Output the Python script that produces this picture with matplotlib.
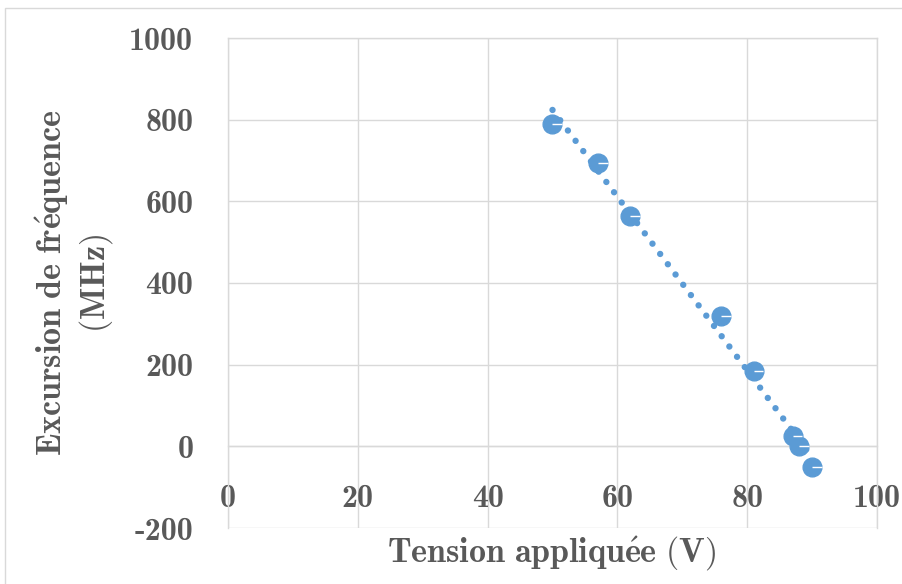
import numpy as np
import matplotlib.pyplot as plt
from matplotlib.patches import Rectangle

# data
tension = [50, 57, 62, 76, 81, 87, 88, 90]
excursion = [790, 695, 565, 320, 185, 25, 0, -50]
x_ticks = [0, 20, 40, 60, 80, 100]
y_ticks = [-200, 0, 200, 400, 600, 800, 1000]

blue = '#5B9BD5'
grey_txt = '#595959'
grid_col = '#D9D9D9'

plt.rcParams['mathtext.fontset'] = 'cm'
plt.rcParams['axes.unicode_minus'] = False

fig = plt.figure(figsize=(9.03, 5.84), dpi=100)
ax = fig.add_axes([228 / 903, 56 / 584, 649 / 903, 490 / 584])

ax.set_xlim(0, 100)
ax.set_ylim(-200, 1000)
ax.set_xticks(x_ticks)
ax.set_yticks(y_ticks)
ax.grid(True, color=grid_col, lw=1)
ax.set_axisbelow(True)

for s in ax.spines.values():
    s.set_color(grid_col)
    s.set_linewidth(1)
ax.spines['bottom'].set_position(('data', 0))

tick_font = dict(family='cmb10', size=23, color=grey_txt)
ax.set_xticklabels([str(v) for v in x_ticks], **tick_font)
ax.set_yticklabels([str(v) for v in y_ticks], **tick_font)
ax.tick_params(axis='x', length=0, pad=27)
ax.tick_params(axis='y', length=0, pad=25)

# linear trend line (dotted)
coef = np.polyfit(tension, excursion, 1)
xt = np.array([min(tension), max(tension)])
ax.plot(xt, np.polyval(coef, xt), color=blue, lw=4.6,
        linestyle=(0, (0.01, 2.0)), dash_capstyle='round', zorder=2)

# measured points
ax.plot(tension, excursion, 'o', color=blue, markersize=13.5, zorder=3)
ax.errorbar(tension, excursion, xerr=[[0] * len(tension), [1.5] * len(tension)],
            fmt='none', ecolor='white', elinewidth=1, capsize=0, zorder=4)

fig.text(552 / 903, 1 - 554 / 584, r'$\mathbf{Tension\ appliqu\acute{e}e\ (V)}$',
         ha='center', va='center', fontsize=24.5, color=grey_txt)
fig.text(74 / 903, 1 - 283 / 584,
         r'$\mathbf{Excursion\ de\ fr\acute{e}quence}$' + '\n' + r'$\mathbf{(MHz)}$',
         ha='center', va='center', rotation=90, multialignment='center',
         fontsize=24.5, color=grey_txt, linespacing=1.2)

fig.patches.append(Rectangle((5 / 903, -0.05), 1.1, 1 - 8 / 584 + 0.05,
                             transform=fig.transFigure, fill=False,
                             edgecolor=grid_col, lw=1))

fig.savefig('out.png', dpi=100)
